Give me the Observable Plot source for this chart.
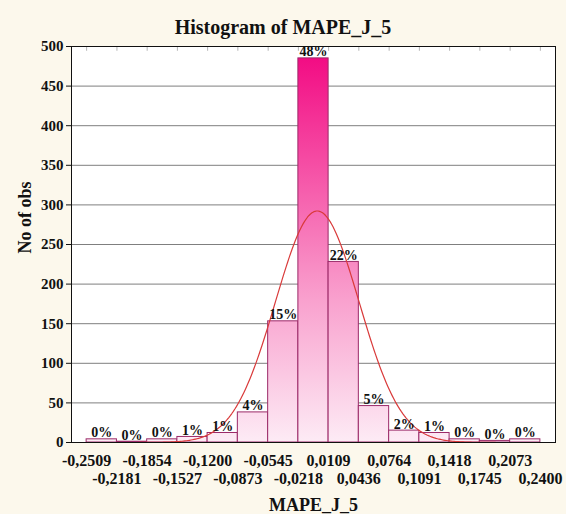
<!DOCTYPE html>
<html><head><meta charset="utf-8">
<script src="https://cdn.jsdelivr.net/npm/d3@7"></script>
<script src="https://cdn.jsdelivr.net/npm/@observablehq/plot@0.6"></script>
<style>
html,body{margin:0;padding:0;}
body{background:#fcf8ec;width:566px;height:514px;overflow:hidden;font-family:"Liberation Serif","Times New Roman",serif;}
#title{height:38px;line-height:54px;text-align:center;font-weight:bold;font-size:20px;color:#111;}
#chart svg{display:block;}
</style></head><body>
<div id="title">Histogram of MAPE_J_5</div>
<div id="chart"></div>
<script>
// Bin edges (class boundaries) and their printed labels
const binEdges = [-0.2509, -0.2181, -0.1854, -0.1527, -0.1200, -0.0873, -0.0545, -0.0218,
                  0.0109, 0.0436, 0.0764, 0.1091, 0.1418, 0.1745, 0.2073, 0.2400];
const edgeLabels = ["-0,2509", "-0,2181", "-0,1854", "-0,1527", "-0,1200", "-0,0873", "-0,0545", "-0,0218",
                    "0,0109", "0,0436", "0,0764", "0,1091", "0,1418", "0,1745", "0,2073", "0,2400"];
const counts = [4, 1, 4, 7, 12, 38, 153, 485, 228, 46, 15, 12, 4, 2, 4];
// Percent labels printed above bars
const pctLabels = ["0%", "0%", "0%", "1%", "1%", "4%", "15%", "48%", "22%", "5%", "2%", "1%", "0%", "0%", "0%"];
// Y axis ticks
const yTicks = [0, 50, 100, 150, 200, 250, 300, 350, 400, 450, 500];

const bins = counts.map((c, i) => ({
  x1: binEdges[i], x2: binEdges[i + 1], mid: (binEdges[i] + binEdges[i + 1]) / 2,
  count: c, pct: pctLabels[i]
}));

// Fitted normal curve, derived from the binned data
const N = d3.sum(counts);
const w = (binEdges[binEdges.length - 1] - binEdges[0]) / counts.length;
const mean = d3.sum(bins, b => b.mid * b.count) / N;
const sd = Math.sqrt(d3.sum(bins, b => b.count * (b.mid - mean) ** 2) / N);
const xs = d3.range(0, 301).map(k => binEdges[0] + k * (binEdges[binEdges.length - 1] - binEdges[0]) / 300);
const curve = xs.map(x => ({x, y: N * w * Math.exp(-0.5 * ((x - mean) / sd) ** 2) / (sd * Math.sqrt(2 * Math.PI))}));

const evenIdx = d3.range(0, binEdges.length, 2);
const oddIdx = d3.range(1, binEdges.length, 2);
const half = w / 2;

const plot = Plot.plot({
  width: 566,
  height: 476,
  marginTop: 8,
  marginBottom: 72,
  marginLeft: 71,
  marginRight: 11,
  style: {fontFamily: "'Liberation Serif','Times New Roman',serif", fontSize: "15px", fontWeight: "bold", background: "transparent", color: "#111"},
  x: {domain: [binEdges[0] - half, binEdges[binEdges.length - 1] + half], axis: null},
  y: {domain: [0, 500]},
  marks: [
    Plot.frame({fill: "white", stroke: null}),
    Plot.ruleY(yTicks.filter(d => d > 0 && d < 500), {stroke: "#7f7f7f", strokeWidth: 1}),
    Plot.ruleX(binEdges, {y1: 500, y2: 494, stroke: "#b5b5b5", strokeWidth: 1}),
    Plot.rectY(bins, {x1: "x1", x2: "x2", y: "count", fill: "url(#pinkGrad)", stroke: "#9b2a68", strokeWidth: 1}),
    Plot.line(curve, {x: "x", y: "y", stroke: "#d93a3a", strokeWidth: 1.2}),
    Plot.text(bins, {x: "mid", y: "count", text: "pct", dy: -2, lineAnchor: "bottom", fontWeight: "bold", fontSize: 14, fill: "#111"}),
    Plot.frame({stroke: "#111", strokeWidth: 1}),
    Plot.axisY(yTicks, {tickSize: 5, tickPadding: 3, fontSize: 15, fontWeight: "bold", label: null}),
    Plot.text(evenIdx, {x: i => binEdges[i], text: i => edgeLabels[i], frameAnchor: "bottom", dy: 18, lineAnchor: "middle", fontSize: 16, fontWeight: "bold"}),
    Plot.text(oddIdx, {x: i => binEdges[i], text: i => edgeLabels[i], frameAnchor: "bottom", dy: 36, lineAnchor: "middle", fontSize: 16, fontWeight: "bold"}),
    Plot.text(["No of obs"], {frameAnchor: "left", rotate: -90, dx: -46, dy: 9, lineAnchor: "middle", fontSize: 18, fontWeight: "bold"}),
    Plot.text(["MAPE_J_5"], {frameAnchor: "bottom", dy: 63, lineAnchor: "middle", fontSize: 18, fontWeight: "bold"})
  ]
});

// Vertical gradient (user space) shared by all bars
const ys = plot.scale("y");
const y0 = ys.apply(0), y500 = ys.apply(500);
const ns = "http://www.w3.org/2000/svg";
const defs = document.createElementNS(ns, "defs");
const grad = document.createElementNS(ns, "linearGradient");
grad.setAttribute("id", "pinkGrad");
grad.setAttribute("gradientUnits", "userSpaceOnUse");
grad.setAttribute("x1", "0"); grad.setAttribute("x2", "0");
grad.setAttribute("y1", String(y0)); grad.setAttribute("y2", String(y500));
[["0", "#fdebf5"], ["0.35", "#f9a3cf"], ["1", "#f20580"]].forEach(([o, c]) => {
  const s = document.createElementNS(ns, "stop");
  s.setAttribute("offset", o); s.setAttribute("stop-color", c);
  grad.appendChild(s);
});
defs.appendChild(grad);
plot.insertBefore(defs, plot.firstChild);
document.getElementById("chart").appendChild(plot);
</script>
</body></html>
